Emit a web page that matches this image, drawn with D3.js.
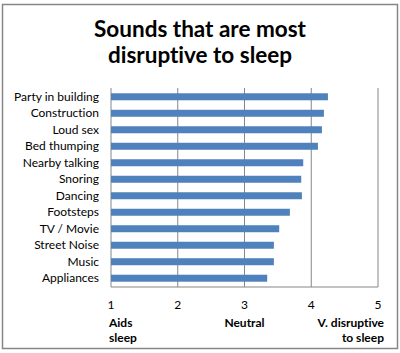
<!DOCTYPE html>
<meta charset="utf-8" />
<head>
  <script src="https://d3js.org/d3.v7.min.js"></script>
  <style>
    body { margin: 0; background: #fff; }
    text { font-family: Lato, "Open Sans", sans-serif; fill: #000; font-variant-ligatures: none; }
  </style>
</head>
<body>
  <div id="chart"></div>
</body>
<script>
  const title = ["Sounds that are most", "disruptive to sleep"];
  const categories = [
    "Party in building", "Construction", "Loud sex", "Bed thumping",
    "Nearby talking", "Snoring", "Dancing", "Footsteps",
    "TV / Movie", "Street Noise", "Music", "Appliances"
  ];
  const values = [4.25, 4.19, 4.16, 4.10, 3.88, 3.85, 3.86, 3.68, 3.52, 3.44, 3.44, 3.34];
  const ticks = [1, 2, 3, 4, 5];
  const scaleLabels = [
    { v: 1, lines: ["Aids", "sleep"], anchor: "start" },
    { v: 3, lines: ["Neutral"], anchor: "middle" },
    { v: 5, lines: ["V. disruptive", "to sleep"], anchor: "end" }
  ];

  const W = 400, H = 353;
  const margin = { top: 88, right: 22, bottom: 66, left: 111 };
  const width = W - margin.left - margin.right;
  const height = H - margin.top - margin.bottom;

  const root = d3.select("#chart").append("svg")
    .attr("width", W).attr("height", H);

  // outer frame
  root.append("rect")
    .attr("x", 2.5).attr("y", 4.5)
    .attr("width", 395).attr("height", 344)
    .attr("fill", "none").attr("stroke", "#868686").attr("stroke-width", 1.5);

  root.append("text")
    .attr("x", 200).attr("y", 37)
    .attr("text-anchor", "middle")
    .style("font-size", "22.5px").style("font-weight", "bold")
    .selectAll("tspan").data(title).enter().append("tspan")
    .attr("x", 200).attr("dy", (d, i) => i ? 26 : 0)
    .text(d => d);

  const svg = root.append("g")
    .attr("transform", "translate(" + margin.left + "," + margin.top + ")");

  const x = d3.scaleLinear().domain([1, 5]).range([0, width]);
  const y = d3.scaleBand().domain(categories).range([0, height]).paddingInner(0.576).paddingOuter(0.32);

  // gridlines
  svg.selectAll("line.grid").data(ticks).enter().append("line")
    .attr("class", "grid")
    .attr("x1", d => x(d)).attr("x2", d => x(d))
    .attr("y1", 0).attr("y2", height)
    .attr("stroke", "#868686").attr("stroke-width", 1);

  svg.selectAll("rect.bar").data(values).enter().append("rect")
    .attr("class", "bar")
    .attr("x", x(1))
    .attr("y", (d, i) => y(categories[i]))
    .attr("width", d => x(d) - x(1))
    .attr("height", y.bandwidth())
    .attr("fill", "#4F81BD");

  // bottom axis line
  svg.append("line")
    .attr("x1", 0).attr("x2", width)
    .attr("y1", height).attr("y2", height)
    .attr("stroke", "#868686");

  // category labels
  svg.selectAll("text.cat").data(categories).enter().append("text")
    .attr("class", "cat")
    .attr("x", -12)
    .attr("y", d => y(d) + y.bandwidth() / 2)
    .attr("dy", "0.35em")
    .attr("text-anchor", "end")
    .style("font-size", "12px")
    .text(d => d);

  // tick labels
  svg.selectAll("text.tick").data(ticks).enter().append("text")
    .attr("class", "tick")
    .attr("x", d => x(d))
    .attr("y", height + 22)
    .attr("text-anchor", "middle")
    .style("font-size", "12px")
    .text(d => d);

  const sl = svg.selectAll("text.scale").data(scaleLabels).enter().append("text")
    .attr("class", "scale")
    .attr("text-anchor", d => d.anchor)
    .style("font-size", "12px").style("font-weight", "bold");
  sl.selectAll("tspan").data(d => d.lines.map(l => ({ l: l, d: d }))).enter().append("tspan")
    .attr("x", o => x(o.d.v) + (o.d.anchor === "start" ? -2 : o.d.anchor === "end" ? 6 : 0))
    .attr("y", (o, i) => height + 40 + i * 15)
    .text(o => o.l);
</script>
